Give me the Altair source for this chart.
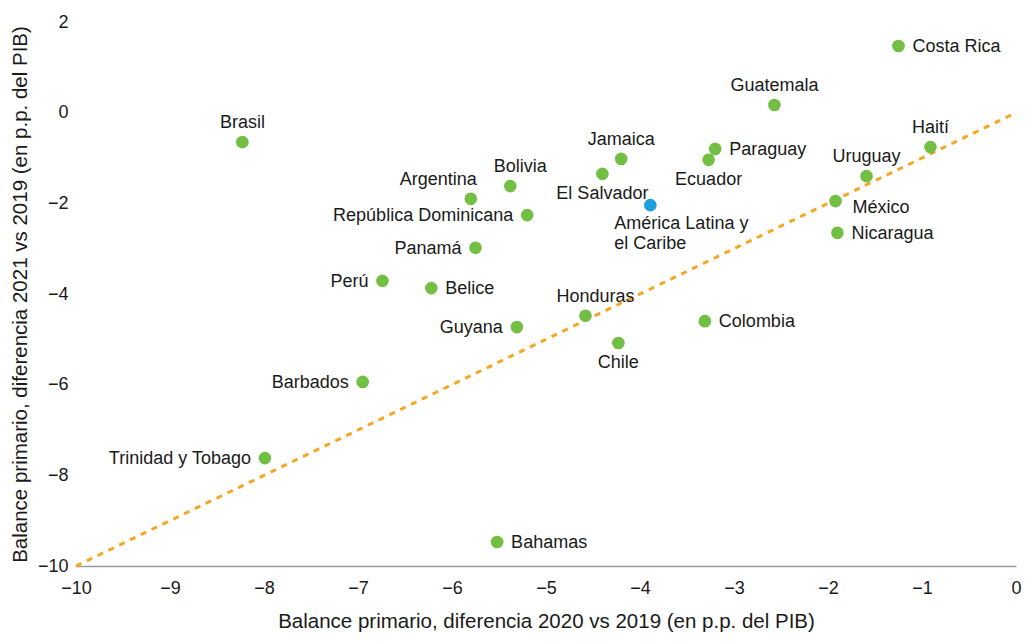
import altair as alt
import pandas as pd

# ---- data ----
paises = [
    "Brasil", "Costa Rica", "Guatemala", "Jamaica", "El Salvador", "Paraguay",
    "Ecuador", "Haití", "Uruguay", "México", "Nicaragua",
    "América Latina y\nel Caribe", "Argentina", "Bolivia", "República Dominicana",
    "Panamá", "Perú", "Belice", "Guyana", "Honduras", "Chile", "Colombia",
    "Barbados", "Trinidad y Tobago", "Bahamas",
]
dif_2020 = [
    -8.23, -1.25, -2.57, -4.20, -4.40, -3.20,
    -3.27, -0.91, -1.59, -1.92, -1.90,
    -3.89, -5.80, -5.38, -5.20,
    -5.75, -6.74, -6.22, -5.31, -4.58, -4.23, -3.31,
    -6.95, -7.99, -5.52,
]
dif_2021 = [
    -0.65, 1.47, 0.17, -1.02, -1.35, -0.80,
    -1.04, -0.76, -1.40, -1.95, -2.65,
    -2.04, -1.90, -1.62, -2.26,
    -2.98, -3.71, -3.87, -4.73, -4.48, -5.08, -4.60,
    -5.94, -7.62, -9.47,
]
grupo = ["País"] * 11 + ["Región"] + ["País"] * 13
posicion = [
    "arriba", "derecha", "arriba", "arriba", "abajo", "derecha",
    "abajo", "arriba", "arriba", "derecha_abajo", "derecha",
    "region", "arriba_izq", "arriba_der", "izquierda",
    "izquierda", "izquierda", "derecha", "izquierda", "arriba_der", "abajo", "derecha",
    "izquierda", "izquierda", "derecha",
]
diagonal = [-10, 0]
x_ticks = list(range(-10, 1))
y_ticks = list(range(-10, 3, 2))

df = pd.DataFrame({
    "pais": paises, "x": dif_2020, "y": dif_2021,
    "grupo": grupo, "pos": posicion,
})
df_diag = pd.DataFrame({"x": diagonal, "y": diagonal})

FONT = "Liberation Sans"
TXT = "#1a1a1a"
FS = 18

xs = alt.Scale(domain=[-10, 0], nice=False, zero=False)
ys = alt.Scale(domain=[-10, 2], nice=False, zero=False)

x_enc = alt.X("x:Q", scale=xs, axis=alt.Axis(
    title="Balance primario, diferencia 2020 vs 2019 (en p.p. del PIB)",
    values=x_ticks, format="d", labelFlush=False, grid=False, ticks=False,
    domain=True, domainColor="#9a9a9a",
    domainWidth=1.5, labelPadding=13, titlePadding=14, labelFontSize=FS,
    titleFontSize=20.5, titleFontWeight="normal", labelFont=FONT, titleFont=FONT,
    labelColor=TXT, titleColor=TXT))
y_enc = alt.Y("y:Q", scale=ys, axis=alt.Axis(
    title="Balance primario, diferencia 2021 vs 2019 (en p.p. del PIB)",
    values=y_ticks, format="d", labelFlush=False, grid=False, ticks=False,
    domain=False,
    labelPadding=8, titlePadding=7, labelFontSize=FS,
    titleFontSize=20.5, titleFontWeight="normal", labelFont=FONT, titleFont=FONT,
    labelColor=TXT, titleColor=TXT))

linea = alt.Chart(df_diag).mark_line(
    color="#f5a623", strokeWidth=3, strokeDash=[6, 6]
).encode(x=alt.X("x:Q", scale=xs), y=alt.Y("y:Q", scale=ys))

puntos = alt.Chart(df).mark_point(filled=True, size=160, opacity=1).encode(
    x=x_enc, y=y_enc,
    color=alt.Color("grupo:N", scale=alt.Scale(domain=["País", "Región"],
                    range=["#72bf44", "#1e9fdc"]), legend=None),
)

base_txt = alt.Chart(df).encode(
    x=alt.X("x:Q", scale=xs), y=alt.Y("y:Q", scale=ys), text="pais:N")

def etiquetas(pos, **kw):
    return base_txt.transform_filter(alt.datum.pos == pos).mark_text(
        font=FONT, fontSize=FS, color=TXT, **kw)

capas = [
    etiquetas("arriba", align="center", baseline="bottom", dy=-10),
    etiquetas("arriba_der", align="center", baseline="bottom", dx=10, dy=-10),
    etiquetas("arriba_izq", align="right", baseline="bottom", dx=6, dy=-10),
    etiquetas("abajo", align="center", baseline="top", dy=11),
    etiquetas("derecha", align="left", baseline="middle", dx=14, dy=1),
    etiquetas("derecha_abajo", align="left", baseline="middle", dx=17, dy=7),
    etiquetas("izquierda", align="right", baseline="middle", dx=-14, dy=1),
    etiquetas("region", align="left", baseline="top", dx=-36, dy=10,
              lineBreak="\n", lineHeight=20),
]

chart = alt.layer(linea, puntos, *capas).properties(
    width=940, height=544,
    padding={"left": 2, "top": 5, "right": 0, "bottom": 0},
).configure_view(stroke=None)

chart.save("out.html", embed_options={"renderer": "svg", "actions": False})
